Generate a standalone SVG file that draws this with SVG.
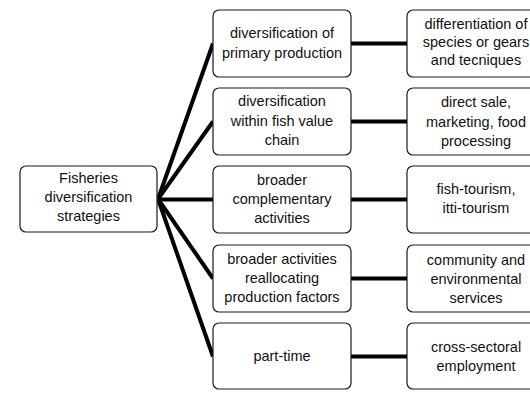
<svg xmlns="http://www.w3.org/2000/svg" width="530" height="393" viewBox="0 0 530 393">
<style>
.box{fill:#fff;stroke:#1a1a1a;stroke-width:1.2}
.t{font-family:"Liberation Sans",Arial,sans-serif;font-size:14.5px;fill:#111;text-anchor:middle}
.c{stroke:#000;stroke-width:4;fill:none}
</style>
<rect width="530" height="393" fill="#fff"/>
<g id="connectors">
<line class="c" x1="158" y1="199" x2="213" y2="43.5"/>
<line class="c" x1="158" y1="199" x2="213" y2="121.5"/>
<line class="c" x1="158" y1="199.5" x2="213" y2="199.5"/>
<line class="c" x1="158" y1="199" x2="213" y2="278.5"/>
<line class="c" x1="158" y1="199" x2="213" y2="356.5"/>
<line class="c" x1="351" y1="43.5" x2="407" y2="43.5"/>
<line class="c" x1="351" y1="121.5" x2="407" y2="121.5"/>
<line class="c" x1="351" y1="199.5" x2="407" y2="199.5"/>
<line class="c" x1="351" y1="278.5" x2="407" y2="278.5"/>
<line class="c" x1="351" y1="356.5" x2="407" y2="356.5"/>
</g>
<g id="root">
<rect class="box" x="20" y="166" width="137" height="66" rx="6"/>
<text class="t" x="88.5" y="183">Fisheries</text>
<text class="t" x="88.5" y="202">diversification</text>
<text class="t" x="88.5" y="221">strategies</text>
</g>
<g id="m1">
<rect class="box" x="213" y="10" width="138" height="67" rx="6"/>
<text class="t" x="282" y="38">diversification of</text>
<text class="t" x="282" y="58">primary production</text>
</g>
<g id="m2">
<rect class="box" x="213" y="88" width="138" height="67" rx="6"/>
<text class="t" x="282" y="106">diversification</text>
<text class="t" x="282" y="126">within fish value</text>
<text class="t" x="282" y="145">chain</text>
</g>
<g id="m3">
<rect class="box" x="213" y="166" width="138" height="67" rx="6"/>
<text class="t" x="282" y="185">broader</text>
<text class="t" x="282" y="204">complementary</text>
<text class="t" x="282" y="223">activities</text>
</g>
<g id="m4">
<rect class="box" x="213" y="245" width="138" height="67" rx="6"/>
<text class="t" x="282" y="264">broader activities</text>
<text class="t" x="282" y="283">reallocating</text>
<text class="t" x="282" y="302">production factors</text>
</g>
<g id="m5">
<rect class="box" x="213" y="323" width="138" height="66" rx="6"/>
<text class="t" x="282" y="361">part-time</text>
</g>
<g id="r1">
<rect class="box" x="407" y="10" width="138" height="67" rx="6"/>
<text class="t" x="476" y="29">differentiation of</text>
<text class="t" x="476" y="47">species or gears</text>
<text class="t" x="476" y="65">and tecniques</text>
</g>
<g id="r2">
<rect class="box" x="407" y="88" width="138" height="67" rx="6"/>
<text class="t" x="476" y="107">direct sale,</text>
<text class="t" x="476" y="127">marketing, food</text>
<text class="t" x="476" y="146">processing</text>
</g>
<g id="r3">
<rect class="box" x="407" y="166" width="138" height="67" rx="6"/>
<text class="t" x="476" y="194">fish-tourism,</text>
<text class="t" x="476" y="213">itti-tourism</text>
</g>
<g id="r4">
<rect class="box" x="407" y="245" width="138" height="67" rx="6"/>
<text class="t" x="476" y="265">community and</text>
<text class="t" x="476" y="284">environmental</text>
<text class="t" x="476" y="303">services</text>
</g>
<g id="r5">
<rect class="box" x="407" y="323" width="138" height="66" rx="6"/>
<text class="t" x="476" y="352">cross-sectoral</text>
<text class="t" x="476" y="371">employment</text>
</g>
</svg>
